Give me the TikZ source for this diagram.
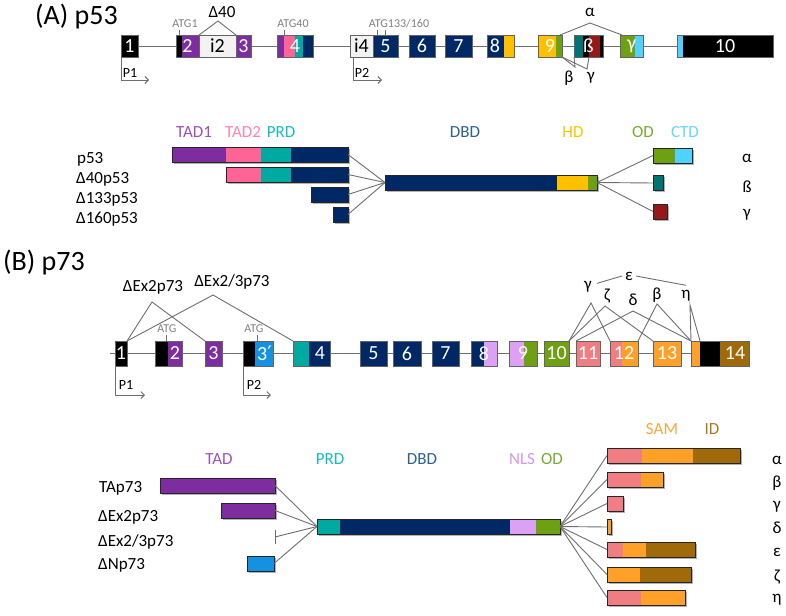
\documentclass[tikz,border=0pt]{standalone}
\usepackage{fontspec}
\setmainfont{Carlito}
\newfontfamily\primefont{DejaVu Sans}
\usetikzlibrary{arrows.meta}
\definecolor{navy}{RGB}{0,40,100}
\definecolor{tadpurple}{RGB}{125,45,160}
\definecolor{tadpink}{RGB}{255,100,150}
\definecolor{prdteal}{RGB}{0,170,160}
\definecolor{hdyellow}{RGB}{255,192,0}
\definecolor{odgreen}{RGB}{110,160,20}
\definecolor{ctdcyan}{RGB}{80,210,255}
\definecolor{betateal}{RGB}{0,115,115}
\definecolor{gamred}{RGB}{150,25,25}
\definecolor{intronfill}{RGB}{242,242,242}
\definecolor{npblue}{RGB}{20,145,225}
\definecolor{nlslilac}{RGB}{220,160,245}
\definecolor{samsalmon}{RGB}{240,125,130}
\definecolor{samorange}{RGB}{255,160,40}
\definecolor{idbrown}{RGB}{160,105,10}
\definecolor{linegray}{RGB}{110,110,110}
\definecolor{exgray}{RGB}{100,100,100}
\definecolor{atggray}{RGB}{128,128,128}
\definecolor{tadtxt}{RGB}{155,80,190}
\definecolor{tadtwotxt}{RGB}{255,130,175}
\definecolor{prdtxt}{RGB}{20,190,190}
\definecolor{dbdtxt}{RGB}{45,95,145}
\definecolor{hdtxt}{RGB}{255,195,0}
\definecolor{odtxt}{RGB}{120,170,50}
\definecolor{ctdtxt}{RGB}{100,215,255}
\definecolor{nlstxt}{RGB}{215,150,240}
\definecolor{samtxt}{RGB}{255,165,60}
\definecolor{idtxt}{RGB}{170,120,30}

\begin{document}
\begin{tikzpicture}[x=1pt,y=-1pt,
  ex/.style={draw=exgray,line width=0.7pt,inner sep=0pt,outer sep=0pt,minimum height=22pt,text=white,font=\fontsize{20}{20}\selectfont},
  exb/.style={ex,minimum height=25pt},
  num/.style={inner sep=0pt,text=white,font=\fontsize{20}{20}\selectfont},
  bar/.style={draw=black!85,line width=0.6pt,inner sep=0pt,outer sep=0pt,minimum height=15pt},
  gline/.style={draw=linegray,line width=0.9pt},
  lab/.style={inner sep=0pt,font=\fontsize{17}{19}\selectfont},
  atg/.style={inner sep=0pt,text=atggray,font=\fontsize{12}{12}\selectfont},
  ttl/.style={anchor=west,inner sep=0pt,font=\fontsize{28}{32}\selectfont},
  prom/.style={gline,-{Straight Barb[length=3.5pt,width=7pt]}},
  plab/.style={inner sep=0pt,font=\fontsize{14}{14}\selectfont}]

\useasboundingbox (0,0) rectangle (786,615);

\node (titleA) at (35,17) [ttl] {(A) p53};

\foreach \xa/\xb/\c in {121/138/black,176/182/black,182/199/tadpurple,199/236/intronfill,236/251/tadpurple,
  277/284/tadpurple,284/295/tadpink,295/303/prdteal,303/313/navy,350/373/intronfill,373/398/navy,
  409/435/navy,445/472/navy,487/504/navy,504/514/hdyellow,538/556/hdyellow,556/562/odgreen,
  574/583/betateal,583/589/black,589/600/gamred,600/603/black,620/635/odgreen,635/643/ctdcyan,
  677/683/ctdcyan,683/773/black}
  \fill[\c] (\xa,35) rectangle (\xb,57);

\node (a1) at (129.5,46) [ex,minimum width=17pt] {1};
\node (a2) at (187.5,46) [ex,minimum width=23pt] {2};
\node (ai2) at (217.5,46) [ex,minimum width=37pt,text=black] {i2};
\node (a3) at (243.5,46) [ex,minimum width=15pt] {3};
\node (a4) at (295,46) [ex,minimum width=36pt] {4};
\node (ai4) at (361.5,46) [ex,minimum width=23pt,text=black] {i4};
\node (a5) at (385.5,46) [ex,minimum width=25pt] {5};
\node (a6) at (422,46) [ex,minimum width=26pt] {6};
\node (a7) at (458.5,46) [ex,minimum width=27pt] {7};
\node (a8) at (500.5,46) [ex,minimum width=27pt] {};
\node (t8) at (495,46) [num] {8};
\node (a9) at (550,46) [ex,minimum width=24pt] {9};
\node (aB) at (588.5,46) [ex,minimum width=29pt] {ß};
\node (aG) at (631.5,46) [ex,minimum width=23pt] {γ};
\node (a10) at (725,46) [ex,minimum width=96pt] {10};

\draw[gline] (a1)--(a2)--(ai2)--(a3)--(a4)--(ai4)--(a5)--(a6)--(a7)--(a8)--(a9)--(aB)--(aG)--(a10);

\node (atg1) at (185,24) [atg] {ATG1};
\node (atg40) at (293,24) [atg] {ATG40};
\node (atg133) at (399,24) [atg] {ATG133/160};
\draw[gline,line width=0.5pt] (179,30) -- ++(0,5);
\draw[gline,line width=0.5pt] (284,30) -- ++(0,5);
\draw[gline,line width=0.5pt] (377,30) -- ++(0,5);
\draw[gline,line width=0.5pt] (385,30) -- ++(0,5);

\coordinate (pkd40) at (218,21);
\node (ld40) at (222,12) [lab] {Δ40};
\draw[gline] (a2.north east) -- (pkd40) -- (a3.north west);

\coordinate (pkalpha) at (590,23);
\node (lalpha) at (590,12) [lab] {α};
\draw[gline] ([xshift=-2pt]a9.north east) -- (pkalpha) -- ([xshift=2pt]aG.north west);
\coordinate (pkbeta) at (575,67);
\coordinate (pkgamma) at (587,69);
\node (lbeta) at (569,78) [lab] {β};
\node (lgamma) at (591,78) [lab] {γ};
\draw[gline] (a9.south east) -- (pkbeta) -- (aB.south west);
\draw[gline] (a9.south east) -- (pkgamma) -- ([xshift=15pt]aB.south west);

\draw[prom] (a1.south west) |- ++(28,23);
\node (p1a) at (130,73) [plab] {P1};
\draw[prom] ([xshift=3pt]ai4.south west) |- ++(29,23);
\node (p2a) at (362,73) [plab] {P2};

\node (dtad1) at (194,132) [lab,text=tadtxt] {TAD1};
\node (dtad2) at (243,132) [lab,text=tadtwotxt] {TAD2};
\node (dprd) at (281,132) [lab,text=prdtxt] {PRD};
\node (ddbd) at (465,132) [lab,text=dbdtxt] {DBD};
\node (dhd) at (573,132) [lab,text=hdtxt] {HD};
\node (dod) at (643,132) [lab,text=odtxt] {OD};
\node (dctd) at (685,132) [lab,text=ctdtxt] {CTD};

\foreach \xa/\ya/\xb/\yb in {172/147/348/162,226/167/348/182,311/187/348/202,333/207/348/222,
  385/175/597/190,653/148/692/163,653/175.5/663/190.5,653/204/667/219,
  160/478/275/493,221/503/275/518,247/556/274/571,317/519/560/534,
  607/448/740/463,607/472/663/487,607/496/623/511,607/519.5/611/534.5,
  607/542/695/557,607/567/691/582,607/590/685/605}
  \fill[black!30] (\xa+1.5,\ya+1.5) rectangle (\xb+1.5,\yb+1.5);

\foreach \xa/\ya/\xb/\yb/\c in {172/147/226/162/tadpurple,226/147/261/162/tadpink,261/147/291/162/prdteal,291/147/348/162/navy,
  226/167/261/182/tadpink,261/167/291/182/prdteal,291/167/348/182/navy,
  311/187/348/202/navy,333/207/348/222/navy,
  385/175/557/190/navy,557/175/588/190/hdyellow,588/175/597/190/odgreen,
  653/148/675/163/odgreen,675/148/692/163/ctdcyan,
  653/175.5/663/190.5/betateal,653/204/667/219/gamred}
  \fill[\c] (\xa,\ya) rectangle (\xb,\yb);

\node (pbar) at (260,154.5) [bar,minimum width=176pt] {};
\node (d40bar) at (287,174.5) [bar,minimum width=122pt] {};
\node (d133bar) at (329.5,194.5) [bar,minimum width=37pt] {};
\node (d160bar) at (340.5,214.5) [bar,minimum width=15pt] {};
\node (dbdbar) at (491,182.5) [bar,minimum width=212pt] {};
\node (aalpha) at (672.5,155.5) [bar,minimum width=39pt] {};
\node (abeta) at (658,183) [bar,minimum width=10pt] {};
\node (agamma) at (660,211.5) [bar,minimum width=14pt] {};

\draw[gline] (pbar.east) -- (dbdbar.west);
\draw[gline] (d40bar.east) -- (dbdbar.west);
\draw[gline] (d133bar.east) -- (dbdbar.west);
\draw[gline] (d160bar.east) -- (dbdbar.west);
\draw[gline] (dbdbar.east) -- (aalpha.west);
\draw[gline] (dbdbar.east) -- (abeta.west);
\draw[gline] (dbdbar.east) -- (agamma.west);

\node (np53) at (77,159) [lab,anchor=west] {p53};
\node (nd40) at (76,179) [lab,anchor=west] {Δ40p53};
\node (nd133) at (76,199) [lab,anchor=west] {Δ133p53};
\node (nd160) at (76,219) [lab,anchor=west] {Δ160p53};
\node (ralphaA) at (747,158) [lab] {α};
\node (rbetaA) at (747,187) [lab] {ß};
\node (rgammaA) at (747,215) [lab] {γ};

\node (titleB) at (3,263) [ttl] {(B) p73};

\foreach \xa/\xb/\c in {115/127/black,155/168/black,168/182/tadpurple,205/222/tadpurple,
  243/255/black,255/273/npblue,293/309/prdteal,309/330/navy,360/387/navy,393/421/navy,432/459/navy,
  471/484/navy,484/497/nlslilac,509/524/nlslilac,524/537/odgreen,544/569/odgreen,576/600/samsalmon,
  610/622/samsalmon,622/638/samorange,653/681/samorange,691/700/samorange,700/720/black,720/749/idbrown}
  \fill[\c] (\xa,341) rectangle (\xb,366);

\coordinate (bstart) at (110,353.5);
\node (b1) at (121,353.5) [exb,minimum width=12pt] {1};
\node (b2) at (168.5,353.5) [exb,minimum width=27pt] {};
\node (t2) at (175,353.5) [num] {2};
\node (b3) at (213.5,353.5) [exb,minimum width=17pt] {3};
\node (b3p) at (258,353.5) [exb,minimum width=30pt] {};
\node (t3p) at (264.5,353.5) [num] {3{\primefont ′}};
\node (b4) at (311.5,353.5) [exb,minimum width=37pt] {};
\node (t4) at (320,353.5) [num] {4};
\node (b5) at (373.5,353.5) [exb,minimum width=27pt] {5};
\node (b6) at (407,353.5) [exb,minimum width=28pt] {6};
\node (b7) at (445.5,353.5) [exb,minimum width=27pt] {7};
\node (b8) at (484,353.5) [exb,minimum width=26pt] {8};
\node (b9) at (523,353.5) [exb,minimum width=28pt] {9};
\node (b10) at (556.5,353.5) [exb,minimum width=25pt] {10};
\node (b11) at (588,353.5) [exb,minimum width=24pt] {11};
\node (b12) at (624,353.5) [exb,minimum width=28pt] {12};
\node (b13) at (667,353.5) [exb,minimum width=28pt] {13};
\node (b14) at (720,353.5) [exb,minimum width=58pt] {};
\node (t14) at (735,353.5) [num] {14};

\draw[gline] (bstart)--(b1)--(b2)--(b3)--(b3p)--(b4)--(b5)--(b6)--(b7)--(b8)--(b9)--(b10)--(b11)--(b12)--(b13)--(b14);

\node (atgB1) at (167,329) [atg] {ATG};
\node (atgB2) at (254,329) [atg] {ATG};
\draw[gline,line width=0.5pt] (166,335) -- ++(0,6);
\draw[gline,line width=0.5pt] (257,335) -- ++(0,6);

\coordinate (pkex2) at (152,302);
\coordinate (pkex23) at (213,295);
\node (lex2) at (153,287) [lab] {ΔEx2p73};
\node (lex23) at (232,282) [lab] {ΔEx2/3p73};
\draw[gline] (b1.north east) -- (pkex2) -- (b3.north west);
\draw[gline] (b1.north east) -- (pkex23) -- (b4.north west);

\coordinate (pkgamB) at (591,303);
\coordinate (pkzetB) at (605,306);
\coordinate (pkdelB) at (633,311);
\coordinate (pkbetB) at (657,304);
\coordinate (pketaB) at (690,305);
\node (lgamB) at (588,287) [lab] {γ};
\node (lzetB) at (607,296) [lab] {ζ};
\node (ldelB) at (633,300) [lab] {δ};
\node (lbetB) at (657,295) [lab] {β};
\node (letaB) at (686,296) [lab] {η};
\node (lepsB) at (629,276) [lab] {ε};
\draw[gline] (b10.north east) -- (pkgamB) -- (b12.north west);
\draw[gline] (b10.north east) -- (pkzetB) -- (b13.north west);
\draw[gline] (b11.north west) -- (pkdelB) -- (b14.north west);
\draw[gline] (b12.north east) -- (pkbetB) -- (b14.north west);
\draw[gline] (b14.north west) -- (pketaB) -- ([xshift=9pt]b14.north west);
\draw[gline] ([xshift=5pt,yshift=-2pt]lgamB.north east) -- ([xshift=-3pt]lepsB.west);
\draw[gline] ([xshift=3pt]lepsB.east) -- ([yshift=5pt]letaB.north);

\draw[prom] (b1.south west) |- ++(30,29);
\node (p1b) at (126,385) [plab] {P1};
\draw[prom] (b3p.south west) |- ++(28,29);
\node (p2b) at (254,385) [plab] {P2};

\node (dtad) at (219,459) [lab,text=tadtxt] {TAD};
\node (dprdB) at (330,459) [lab,text=prdtxt] {PRD};
\node (ddbdB) at (422,459) [lab,text=dbdtxt] {DBD};
\node (dnls) at (522,459) [lab,text=nlstxt] {NLS};
\node (dodB) at (552,459) [lab,text=odtxt] {OD};
\node (dsam) at (662,429) [lab,text=samtxt] {SAM};
\node (did) at (712,429) [lab,text=idtxt] {ID};

\foreach \xa/\ya/\xb/\yb/\c in {160/478/275/493/tadpurple,221/503/275/518/tadpurple,247/556/274/571/npblue,
  317/519/340/534/prdteal,340/519/510/534/navy,510/519/536/534/nlslilac,536/519/560/534/odgreen,
  607/448/642/463/samsalmon,642/448/693/463/samorange,693/448/740/463/idbrown,
  607/472/641/487/samsalmon,641/472/663/487/samorange,607/496/623/511/samsalmon,
  607/519.5/611/534.5/samorange,607/542/623/557/samsalmon,623/542/646/557/samorange,646/542/695/557/idbrown,
  607/567/640/582/samorange,640/567/691/582/idbrown,607/590/641/605/samsalmon,641/590/685/605/samorange}
  \fill[\c] (\xa,\ya) rectangle (\xb,\yb);

\node (tabar) at (217.5,485.5) [bar,minimum width=115pt] {};
\node (ex2bar) at (248,510.5) [bar,minimum width=54pt] {};
\coordinate (ex23) at (275,537);
\node (npbar) at (260.5,563.5) [bar,minimum width=27pt] {};
\node (mainbar) at (438.5,526.5) [bar,minimum width=243pt] {};
\node (ralpha) at (673.5,455.5) [bar,minimum width=133pt] {};
\node (rbeta) at (635,479.5) [bar,minimum width=56pt] {};
\node (rgamma) at (615,503.5) [bar,minimum width=16pt] {};
\node (rdelta) at (609,527) [bar,minimum width=4pt] {};
\node (repsilon) at (651,549.5) [bar,minimum width=88pt] {};
\node (rzeta) at (649,574.5) [bar,minimum width=84pt] {};
\node (reta) at (646,597.5) [bar,minimum width=78pt] {};

\draw[gline] ([yshift=7pt]ex23) -- ([yshift=-7pt]ex23);
\draw[gline] (tabar.east) -- (mainbar.west);
\draw[gline] (ex2bar.east) -- (mainbar.west);
\draw[gline] (ex23) -- (mainbar.west);
\draw[gline] (npbar.east) -- (mainbar.west);
\foreach \r in {ralpha,rbeta,rgamma,rdelta,repsilon,rzeta,reta}
  \draw[gline] (mainbar.east) -- (\r.west);

\node (ntap73) at (99,488) [lab,anchor=west] {TAp73};
\node (nex2) at (98,517) [lab,anchor=west] {ΔEx2p73};
\node (nex23) at (98,542) [lab,anchor=west] {ΔEx2/3p73};
\node (nnp73) at (98,565) [lab,anchor=west] {ΔNp73};
\node (ralphaB) at (777,460) [lab] {α};
\node (rbetaB) at (777,483) [lab] {β};
\node (rgammaB) at (777,507) [lab] {γ};
\node (rdeltaB) at (777,528) [lab] {δ};
\node (repsB) at (777,552) [lab] {ε};
\node (rzetaB) at (777,577) [lab] {ζ};
\node (retaB) at (777,600) [lab] {η};
\end{tikzpicture}
\end{document}
